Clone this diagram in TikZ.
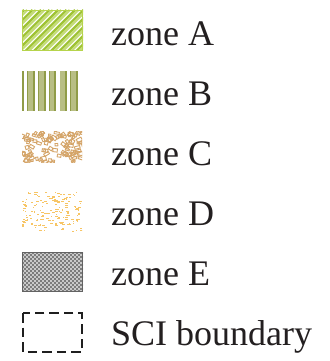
\documentclass[tikz,border=0pt]{standalone}
\usepackage{fontspec}
\setmainfont{Liberation Serif}
\definecolor{zAdark}{HTML}{9EC234}
\definecolor{zAlight}{HTML}{C4DC78}
\definecolor{zAborder}{HTML}{B6D44C}
\definecolor{zBlight}{HTML}{B8BE84}
\definecolor{zBdark}{HTML}{909C48}
\definecolor{zC}{HTML}{D4A468}
\definecolor{zD}{HTML}{F7C565}
\definecolor{zEdark}{HTML}{7C7C7C}
\definecolor{zElight}{HTML}{C9C9C9}
\definecolor{txt}{HTML}{231F20}
\tikzset{
  lbl/.style={anchor=base west, inner sep=0pt, text=txt, font=\fontsize{36}{40}\selectfont},
}
\begin{document}
\begin{tikzpicture}[x=1pt,y=-1pt]
\useasboundingbox (0,0) rectangle (329,361);
% zone A
\begin{scope}
  \clip (22,10) rectangle (83,51);
  \fill[white] (22,10) rectangle (83,51);
  \foreach \i in {-6,...,11} {
    \draw[zAdark, line width=2.4] ({\i*8.5},51) -- ++(41,-41);
    \draw[zAlight, line width=2.4] ({\i*8.5+3.2},51) -- ++(41,-41);
  }
\end{scope}
\draw[zAborder, line width=1] (22.5,10.5) rectangle (82.5,50.5);
% zone B
\begin{scope}
  \clip (22,71) rectangle (79,111);
  \foreach \x in {16.7,27.4,38.1,48.8,59.5,70.2} {
    \fill[zBdark] (\x,71) rectangle ++(0.8,40);
    \fill[zBlight] (\x+0.8,71) rectangle ++(4.6,40);
    \fill[zBdark] (\x+5.4,71) rectangle ++(2.2,40);
  }
\end{scope}
% zone C
\begin{scope}
  \clip (22,131) rectangle (82,162);
  \pgfmathsetseed{7}
  \foreach \k in {1,...,100} {
    \pgfmathsetmacro\cx{20+63*rnd}
    \pgfmathsetmacro\cy{129+34*rnd}
    \pgfmathsetmacro\w{2+3.5*rnd}
    \pgfmathsetmacro\h{1.5+2.5*rnd}
    \pgfmathsetmacro\r{-40+80*rnd}
    \draw[zC, line width=0.9, rotate around={\r:(\cx,\cy)}] (\cx,\cy) rectangle ++(\w,\h);
  }
\end{scope}
% zone D
\begin{scope}
  \clip (22,192) rectangle (82,232);
  \pgfmathsetseed{11}
  \foreach \k in {1,...,150} {
    \pgfmathsetmacro\cx{22+59*rnd}
    \pgfmathsetmacro\cy{192+39*rnd}
    \pgfmathsetmacro\w{0.9+2.6*rnd}
    \fill[zD] (\cx,\cy) rectangle ++(\w,1.1);
  }
\end{scope}
% zone E
\begin{scope}
  \clip (22,252) rectangle (83,292);
  \fill[zEdark] (22,252) rectangle (83,292);
  \foreach \y in {252,256,...,290} {
    \foreach \x in {22,26,...,82} {
      \fill[zElight] (\x,\y) rectangle ++(2,2);
      \fill[zElight] (\x+2,\y+2) rectangle ++(2,2);
    }
  }
\end{scope}
\draw[zEdark!80!black, line width=1] (22.5,252.5) rectangle (82.5,291.5);
% SCI boundary
\draw[black!88, line width=2.2, dash pattern=on 9.5pt off 5pt] (23.1,313.1) rectangle (81.9,351.9);
% labels
\node[lbl] (tA) at (111,45.5) {zone A};
\node[lbl] (tB) at (111,105.5) {zone B};
\node[lbl] (tC) at (111,165.5) {zone C};
\node[lbl] (tD) at (111,225.5) {zone D};
\node[lbl] (tE) at (111,285.5) {zone E};
\node[lbl] (tS) at (111,345.5) {SCI boundary};
\end{tikzpicture}
\end{document}
